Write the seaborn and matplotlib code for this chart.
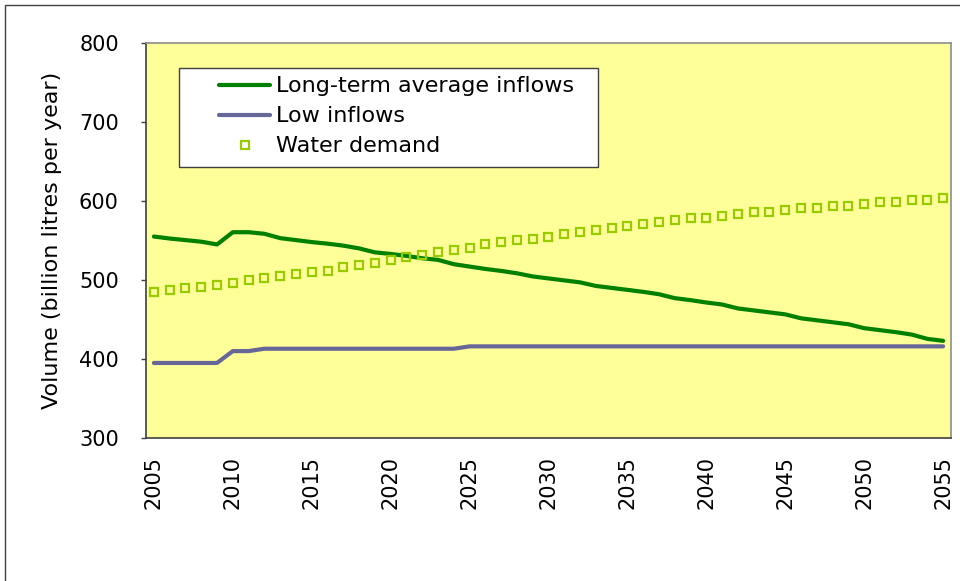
import numpy as np
import pandas as pd
import matplotlib
matplotlib.use("Agg")
import matplotlib.pyplot as plt
from matplotlib.patches import Rectangle
import seaborn as sns

''' Data read off the chart '''
years = list(range(2005, 2056))
long_term = [555, 552.5, 550.5, 548.5, 545, 560.5, 560.5, 558.5, 553, 550.5,
             548, 546, 543.5, 540, 535, 533, 530.5, 527.5, 525.5, 520,
             517, 514, 511.5, 508.5, 504.5, 502, 499.5, 497, 492.5, 490,
             487.5, 485, 482, 477, 474.5, 471.5, 469, 464, 461.5, 459,
             456.5, 451.5, 449, 446.5, 444, 439, 436.5, 434, 431, 425.5, 423]
low_inflows = [395, 395, 395, 395, 395, 410, 410, 413, 413, 413,
               413, 413, 413, 413, 413, 413, 413, 413, 413, 413,
               416, 416, 416, 416, 416, 416, 416, 416, 416, 416,
               416, 416, 416, 416, 416, 416, 416, 416, 416, 416,
               416, 416, 416, 416, 416, 416, 416, 416, 416, 416, 416]
demand = [484.5, 487, 489.5, 491.5, 494, 496.5, 499.5, 502, 504.5, 507,
          509.5, 512, 516.5, 519.5, 522, 525, 529.5, 532, 535, 537.5,
          540, 545, 548, 550.5, 552.5, 554.5, 558.5, 560.5, 563, 565.5,
          568, 570.5, 573, 576, 578.5, 578.5, 581.5, 584, 586.5, 586.5,
          589, 591.5, 591.5, 594, 594, 596.5, 599, 599, 601.5, 601.5, 604]
tick_years = [2005, 2010, 2015, 2020, 2025, 2030, 2035, 2040, 2045, 2050, 2055]

df = pd.DataFrame({"year": years, "long": long_term, "low": low_inflows, "demand": demand})

sns.set_style("white")
plt.rcParams["font.family"] = ["DejaVu Sans"]
plt.rcParams["text.color"] = "black"
plt.rcParams["axes.labelcolor"] = "black"
plt.rcParams["xtick.color"] = "black"
plt.rcParams["ytick.color"] = "black"

fig = plt.figure(figsize=(9.6, 5.81), dpi=100)
ax = fig.add_axes([146 / 960, 1 - 438 / 581, 805 / 960, 395 / 581])
ax.set_facecolor("#ffff99")

sns.lineplot(data=df, x="year", y="long", ax=ax, color="#008000", linewidth=3,
             label="Long-term average inflows")
sns.lineplot(data=df, x="year", y="low", ax=ax, color="#666699", linewidth=3,
             label="Low inflows")
sns.lineplot(data=df, x="year", y="demand", ax=ax, color="#99cc00", linestyle="",
             marker="s", markersize=6, markerfacecolor="none",
             markeredgecolor="#99cc00", markeredgewidth=1.6, label="Water demand")

ax.set_xlim(2004.5, 2055.5)
ax.set_ylim(300, 800)
ax.set_yticks([300, 400, 500, 600, 700, 800])
ax.set_xticks(tick_years)
ax.set_xticklabels([str(y) for y in tick_years], rotation=90, fontsize=15)
ax.tick_params(axis="x", length=0, pad=13)
ax.tick_params(axis="y", labelsize=15, left=True, length=3.6, width=1, color="#404040", pad=16)
ax.set_xlabel("")
ax.set_ylabel("Volume (billion litres per year)", fontsize=16, labelpad=12)

for side in ["left", "bottom"]:
    ax.spines[side].set_color("#404040")
    ax.spines[side].set_linewidth(1.2)
for side in ["top", "right"]:
    ax.spines[side].set_color("#8c8c8c")
    ax.spines[side].set_linewidth(1.2)

# legend box drawn by hand, legend itself without frame
ax.add_patch(Rectangle((0.041, 0.686), 0.5205, 0.251, transform=ax.transAxes,
                       facecolor="white", edgecolor="#404040", linewidth=1, zorder=5))
leg = ax.legend(loc="upper left", bbox_to_anchor=(0.0907, 0.9155), frameon=False,
                fontsize=16, borderpad=0, borderaxespad=0, handlelength=2.3,
                handletextpad=0.27, labelspacing=0.45, numpoints=1)
leg.set_zorder(6)

# outer chart border
fig.patches.append(Rectangle((5 / 960, -0.05), 1.1, 1 - 4.5 / 581 + 0.05,
                             transform=fig.transFigure, fill=False,
                             edgecolor="#404040", linewidth=1))

fig.savefig("out.png", dpi=100)
